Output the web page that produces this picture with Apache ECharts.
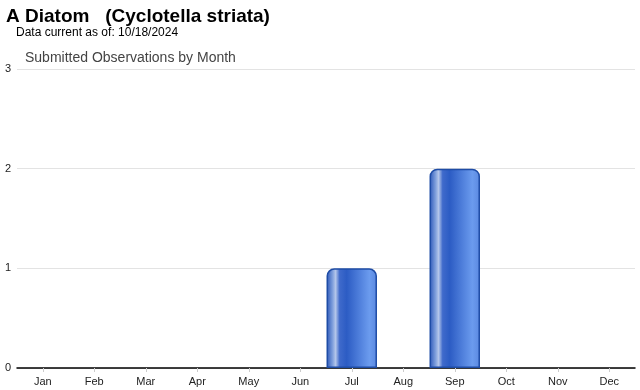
<!DOCTYPE html>
<html><head><meta charset="utf-8">
<script src="https://cdn.jsdelivr.net/npm/echarts@6/dist/echarts.min.js"></script>
<style>html,body{margin:0;padding:0;background:#fff}#c{width:640px;height:390px}</style>
</head><body><div id="c"></div>
<script>
const months = ['Jan','Feb','Mar','Apr','May','Jun','Jul','Aug','Sep','Oct','Nov','Dec'];
const observations = [0,0,0,0,0,0,1,0,2,0,0,0];
const yTicks = [0,1,2,3];
const titleText = 'A Diatom   (Cyclotella striata)';
const subText = 'Data current as of: 10/18/2024';
const chartTitle = 'Submitted Observations by Month';

const chart = echarts.init(document.getElementById('c'), null, {renderer:'canvas'});
const grad = new echarts.graphic.LinearGradient(0,0,1,0,[
  {offset:0, color:'#2a56b8'},
  {offset:0.12, color:'#7f9fdc'},
  {offset:0.18, color:'#b4c6ea'},
  {offset:0.26, color:'#3f6acb'},
  {offset:0.4, color:'#2c5cc4'},
  {offset:0.85, color:'#6b9bee'},
  {offset:1, color:'#5a88e0'}
]);
chart.setOption({
  animation:false,
  title:[
    {text:titleText, left:6, top:7, padding:0, textStyle:{fontFamily:'Liberation Sans, Arial', fontSize:19, fontWeight:'bold', color:'#000'}},
    {text:subText, left:16, top:27, padding:0, textStyle:{fontFamily:'Liberation Sans, Arial', fontSize:12, fontWeight:'normal', color:'#000'}},
    {text:chartTitle, left:25, top:51, padding:0, textStyle:{fontFamily:'Liberation Sans, Arial', fontSize:14, fontWeight:'normal', color:'#444'}}
  ],
  grid:{left:17, right:5, top:69, bottom:22, containLabel:false},
  xAxis:{type:'category', data:months,
    axisLine:{lineStyle:{color:'#000', width:1.5}},
    axisTick:{show:true, alignWithLabel:true, length:4, inside:false, lineStyle:{color:'#ccc'}},
    axisLabel:{fontFamily:'Liberation Sans, Arial', fontSize:11, color:'#222', margin:8}
  },
  yAxis:{type:'value', min:0, max:3, interval:1,
    axisLine:{show:false}, axisTick:{show:false},
    splitLine:{lineStyle:{color:'#e3e3e3'}},
    axisLabel:{fontFamily:'Liberation Sans, Arial', fontSize:11, color:'#222', margin:6,
      formatter:v=>yTicks.includes(v)?String(v):''}
  },
  series:[{type:'bar', data:observations.map(v=>v===0?'-':v), barCategoryGap:'2%',
    itemStyle:{color:grad, borderColor:'#1e4ca6', borderWidth:1.5, borderRadius:[7,7,0,0]}
  }]
});
</script></body></html>
